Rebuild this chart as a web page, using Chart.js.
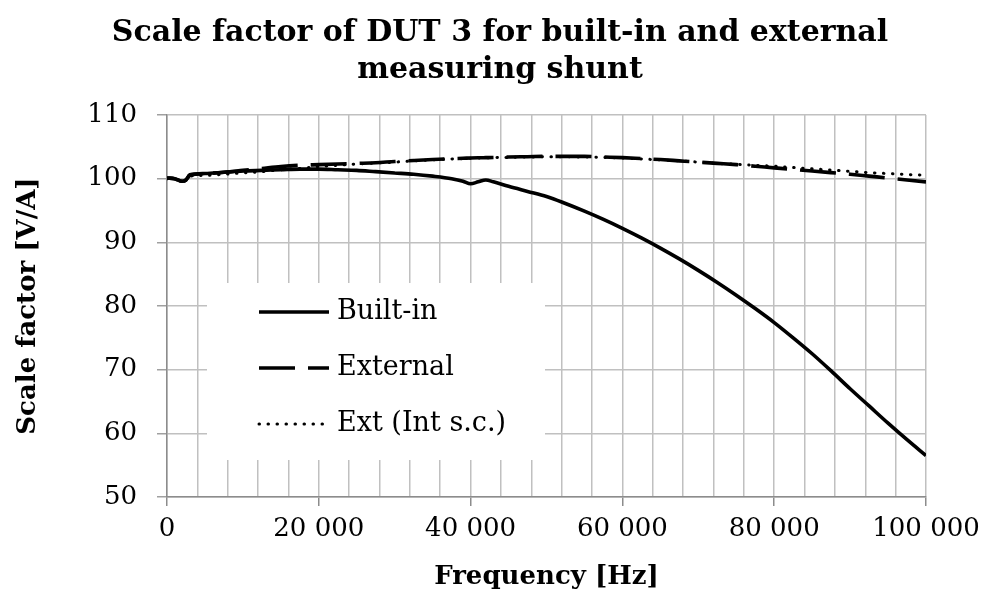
<!DOCTYPE html>
<html><head><meta charset="utf-8">
<script src="https://cdn.jsdelivr.net/npm/chart.js@4.4.1/dist/chart.umd.min.js"></script>
<style>html,body{margin:0;padding:0;background:#fff}#c{display:block}</style>
</head><body>
<canvas id="c" width="984" height="610"></canvas>
<script>
const titleLines = ['Scale factor of DUT 3 for built-in and external', 'measuring shunt'];
const xTitle = 'Frequency [Hz]';
const yTitle = 'Scale factor [V/A]';
const seriesNames = ['Built-in', 'External', 'Ext (Int s.c.)'];

const freqHz = [0,1000,2000,2500,3000,5000,7500,10000,12500,15000,17500,20000,22500,25000,27500,30000,32500,35000,37500,39000,40000,41000,42000,43000,45000,47500,50000,52500,55000,57500,60000,62500,65000,67500,70000,72500,75000,77500,80000,82500,85000,87500,90000,92500,95000,97500,100000];

const builtIn = [100.1,100.0,99.6,99.8,100.6,100.8,101.0,101.2,101.3,101.4,101.5,101.5,101.4,101.3,101.1,100.9,100.7,100.4,100.0,99.6,99.2,99.5,99.8,99.5,98.8,98.0,97.2,96.1,94.9,93.6,92.2,90.7,89.1,87.4,85.6,83.7,81.7,79.6,77.4,75.0,72.5,69.8,67.0,64.3,61.6,59.0,56.5];

const external = [100.1,100.0,99.6,99.8,100.5,100.8,101.0,101.3,101.6,101.9,102.1,102.2,102.3,102.4,102.5,102.7,102.85,103.0,103.15,103.2,103.25,103.28,103.3,103.32,103.4,103.45,103.5,103.5,103.5,103.4,103.3,103.15,103.0,102.8,102.6,102.4,102.2,101.95,101.7,101.45,101.2,100.95,100.7,100.4,100.1,99.8,99.5];

const extIntSc = [100.0,99.9,99.6,99.7,100.4,100.5,100.7,100.9,101.1,101.4,101.6,101.9,102.1,102.3,102.45,102.6,102.8,102.95,103.1,103.15,103.2,103.23,103.26,103.3,103.35,103.4,103.45,103.45,103.4,103.35,103.25,103.1,102.95,102.8,102.6,102.4,102.25,102.1,101.95,101.75,101.55,101.35,101.15,100.95,100.8,100.65,100.55];

const seriesValues = [builtIn, external, extIntSc];

const SERIF = '"DejaVu Serif", serif';
function fmt(v) { return String(v).replace(/\B(?=(\d{3})+(?!\d))/g, ' '); }
function pts(arr) { return freqHz.map((f, i) => ({ x: f, y: arr[i] })); }

const lineStyles = [
  { borderDash: [], borderWidth: 3.6, borderCapStyle: 'butt' },
  { borderDash: [36, 13], borderWidth: 3.6, borderCapStyle: 'butt' },
  { borderDash: [0.5, 8.5], borderWidth: 3.0, borderCapStyle: 'round' }
];

const chartTitle = {
  id: 'chartTitle',
  afterDraw(chart) {
    const { ctx } = chart;
    ctx.save();
    ctx.fillStyle = '#000';
    ctx.font = 'bold 30px ' + SERIF;
    ctx.textAlign = 'center';
    ctx.textBaseline = 'middle';
    titleLines.forEach((t, i) => ctx.fillText(t, 500, 33 + i * 37));
    ctx.restore();
  }
};

const insideLegend = {
  id: 'insideLegend',
  beforeDatasetsDraw(chart) {
    const { ctx, chartArea: a } = chart;
    const x0 = a.left + 40, y0 = a.top + 168, w = 338, h = 177;
    ctx.save();
    ctx.fillStyle = '#fff';
    ctx.fillRect(x0, y0, w, h);
    chart.data.datasets.forEach((ds, i) => {
      const y = y0 + 29 + i * 56;
      ctx.beginPath();
      ctx.setLineDash(ds.borderDash || []);
      ctx.lineWidth = ds.borderWidth;
      ctx.lineCap = ds.borderCapStyle || 'butt';
      ctx.strokeStyle = ds.borderColor;
      ctx.moveTo(x0 + 52, y);
      ctx.lineTo(x0 + 122, y);
      ctx.stroke();
      ctx.setLineDash([]);
      ctx.fillStyle = '#000';
      ctx.font = '27px ' + SERIF;
      ctx.textBaseline = 'middle';
      ctx.textAlign = 'left';
      ctx.fillText(ds.label, x0 + 130, y);
    });
    ctx.restore();
  }
};

new Chart(document.getElementById('c'), {
  type: 'scatter',
  data: {
    datasets: seriesNames.map((name, i) => Object.assign({
      label: name,
      data: pts(seriesValues[i]),
      showLine: true,
      borderColor: '#000',
      backgroundColor: '#000',
      pointRadius: 0,
      pointHoverRadius: 0,
      cubicInterpolationMode: 'monotone'
    }, lineStyles[i]))
  },
  options: {
    responsive: false,
    animation: false,
    devicePixelRatio: 1,
    layout: { padding: { left: 0, right: 58, top: 115, bottom: 0 } },
    plugins: {
      legend: { display: false },
      tooltip: { enabled: false },
      title: { display: false }
    },
    scales: {
      x: {
        type: 'linear', min: 0, max: 100000,
        afterFit(s) { s.height = 113; s.paddingLeft = 0; s.paddingRight = 0; },
        ticks: {
          stepSize: 4000, autoSkip: false, maxRotation: 0, minRotation: 0,
          padding: 8, color: '#000', font: { family: SERIF, size: 26 },
          callback: v => (v % 20000 === 0 ? fmt(v) : '')
        },
        grid: {
          color: '#c0c0c0', lineWidth: 1.5, tickLength: 9, tickWidth: 1.5,
          tickColor: c => (c.tick && c.tick.value % 20000 === 0) ? '#8c8c8c' : 'rgba(0,0,0,0)'
        },
        border: { color: '#8c8c8c', width: 1.5 },
        title: {
          display: true, text: xTitle, color: '#000',
          font: { family: SERIF, size: 26, weight: 'bold', lineHeight: 1.2 },
          padding: { top: 0, bottom: 17 }
        }
      },
      y: {
        min: 50, max: 110,
        afterFit(s) { s.width = 167; s.paddingTop = 0; s.paddingBottom = 0; },
        ticks: { stepSize: 10, padding: 20, color: '#000', font: { family: SERIF, size: 26 } },
        grid: { color: '#c0c0c0', lineWidth: 1.5, tickLength: 10, tickColor: '#a0a0a0', tickWidth: 1.5 },
        border: { color: '#8c8c8c', width: 1.5 },
        title: {
          display: true, text: yTitle, color: '#000',
          font: { family: SERIF, size: 26, weight: 'bold', lineHeight: 1.2 },
          padding: { top: 13, bottom: 0 }
        }
      }
    }
  },
  plugins: [insideLegend, chartTitle]
});
</script>
</body></html>
